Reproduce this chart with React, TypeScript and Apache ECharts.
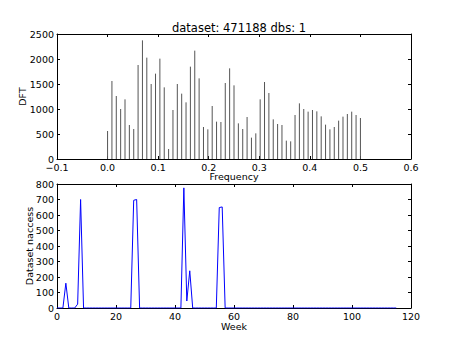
import React, { useEffect, useRef } from "react";
import * as echarts from "echarts";

const TITLE = "dataset: 471188 dbs: 1";
const N_WEEKS = 116;
// DFT magnitude for frequency bins k/116, k = 0..58
const dftValues = [
  560, 1560, 1260, 1000, 1193, 680, 600, 1880, 2373, 2027,
  1500, 1707, 2007, 1433, 200, 980, 1500, 1307, 1133, 1847,
  2167, 1613, 640, 593, 1060, 747, 740, 1520, 1813, 1473,
  713, 600, 840, 427, 513, 1193, 1540, 1320, 793, 700,
  680, 367, 353, 880, 1113, 1000, 947, 980, 953, 853,
  687, 593, 640, 767, 847, 900, 947, 880, 820,
];
// weekly naccess, weeks 0..115
const naccess = [
  0, 0, 0, 160, 0, 0, 0, 25, 700, 0,
  0, 0, 0, 0, 0, 0, 0, 0, 0, 0,
  0, 0, 0, 0, 0, 0, 695, 700, 0, 0,
  0, 0, 0, 0, 0, 0, 0, 0, 0, 0,
  0, 0, 0, 775, 45, 240, 0, 0, 0, 0,
  0, 0, 0, 0, 0, 648, 652, 0, 0, 0,
  0, 0, 0, 0, 0, 0, 0, 0, 0, 0,
  0, 0, 0, 0, 0, 0, 0, 0, 0, 0,
  0, 0, 0, 0, 0, 0, 0, 0, 0, 0,
  0, 0, 0, 0, 0, 0, 0, 0, 0, 0,
  0, 0, 0, 0, 0, 0, 0, 0, 0, 0,
  0, 0, 0, 0, 0, 0,
];

const FONT = "DejaVu Sans";

function fmtFreq(v: number) {
  if (Math.abs(v) < 1e-9) return "0.0";
  if (v < 0) return "\u2212" + Math.abs(v).toFixed(1);
  return v.toFixed(1);
}
function fmtInt(v: number) {
  return String(Math.round(v));
}

export default function App() {
  const ref = useRef<HTMLDivElement>(null);
  useEffect(() => {
    if (!ref.current) return;
    const chart = echarts.init(ref.current, null, { renderer: "svg" });
    const dftData = dftValues.map((v, k) => [k / N_WEEKS, v]);
    const weekData = naccess.map((v, i) => [i, v]);
    const lineStyle = { color: "#000", width: 1 };
    const tick = { show: true, inside: true, length: 3, lineStyle: { color: "#000" } };
    const label = { color: "#000", fontFamily: FONT, fontSize: 9.5, lineHeight: 8 };
    const nameStyle = { color: "#000", fontFamily: FONT, fontSize: 9.5 };
    const mkX = (grid: number, min: number, max: number, interval: number, pos: string, show: boolean, name = "", gap = 0, fmt?: any) => ({
      type: "value", gridIndex: grid, min, max, interval, position: pos,
      axisLine: { show: true, onZero: false, lineStyle },
      axisTick: tick,
      axisLabel: show ? { ...label, margin: 4, formatter: fmt, showMinLabel: true, showMaxLabel: true } : { show: false },
      splitLine: { show: false },
      name, nameLocation: "middle", nameGap: gap, nameTextStyle: nameStyle, nameMoveOverlap: false,
    });
    const mkY = (grid: number, min: number, max: number, interval: number, pos: string, show: boolean, name = "", gap = 0) => ({
      type: "value", gridIndex: grid, min, max, interval, position: pos,
      axisLine: { show: true, onZero: false, lineStyle },
      axisTick: tick,
      axisLabel: show ? { ...label, margin: 3, formatter: fmtInt, showMinLabel: true, showMaxLabel: true } : { show: false },
      splitLine: { show: false },
      name, nameLocation: "middle", nameGap: gap, nameTextStyle: nameStyle, nameRotate: 90, nameMoveOverlap: false,
    });
    chart.setOption({
      animation: false,
      backgroundColor: "#fff",
      title: {
        text: TITLE, left: 234, top: 17, textAlign: "center",
        textStyle: { color: "#000", fontFamily: FONT, fontSize: 11.5, fontWeight: "normal" },
      },
      grid: [
        { left: 57, right: 46, top: 34, height: 125 },
        { left: 57, right: 46, top: 184, height: 124 },
      ],
      xAxis: [
        mkX(0, -0.1, 0.6, 0.1, "bottom", true, "Frequency", 12, fmtFreq),
        mkX(0, -0.1, 0.6, 0.1, "top", false),
        mkX(1, 0, 120, 20, "bottom", true, "Week", 13, fmtInt),
        mkX(1, 0, 120, 20, "top", false),
      ],
      yAxis: [
        mkY(0, 0, 2500, 500, "left", true, "DFT", 30),
        mkY(0, 0, 2500, 500, "right", false),
        mkY(1, 0, 800, 100, "left", true, "Dataset naccess", 23),
        mkY(1, 0, 800, 100, "right", false),
      ],
      series: [
        {
          type: "custom",
          xAxisIndex: 0,
          yAxisIndex: 0,
          data: dftData,
          renderItem: (params: any, api: any) => {
            const x = api.value(0);
            const y = api.value(1);
            const p0 = api.coord([x, 0]);
            const p1 = api.coord([x, y]);
            return {
              type: "line",
              shape: { x1: p0[0], y1: p0[1], x2: p1[0], y2: p1[1] },
              style: { stroke: "#555", lineWidth: 1 },
            };
          },
        },
        {
          type: "line",
          xAxisIndex: 2,
          yAxisIndex: 2,
          data: weekData,
          showSymbol: false,
          lineStyle: { color: "#0000ff", width: 1 },
          itemStyle: { color: "#0000ff" },
        },
      ],
    });
    return () => chart.dispose();
  }, []);
  return <div ref={ref} style={{ width: 457, height: 343, position: "absolute", left: 0, top: 0 }} />;
}
